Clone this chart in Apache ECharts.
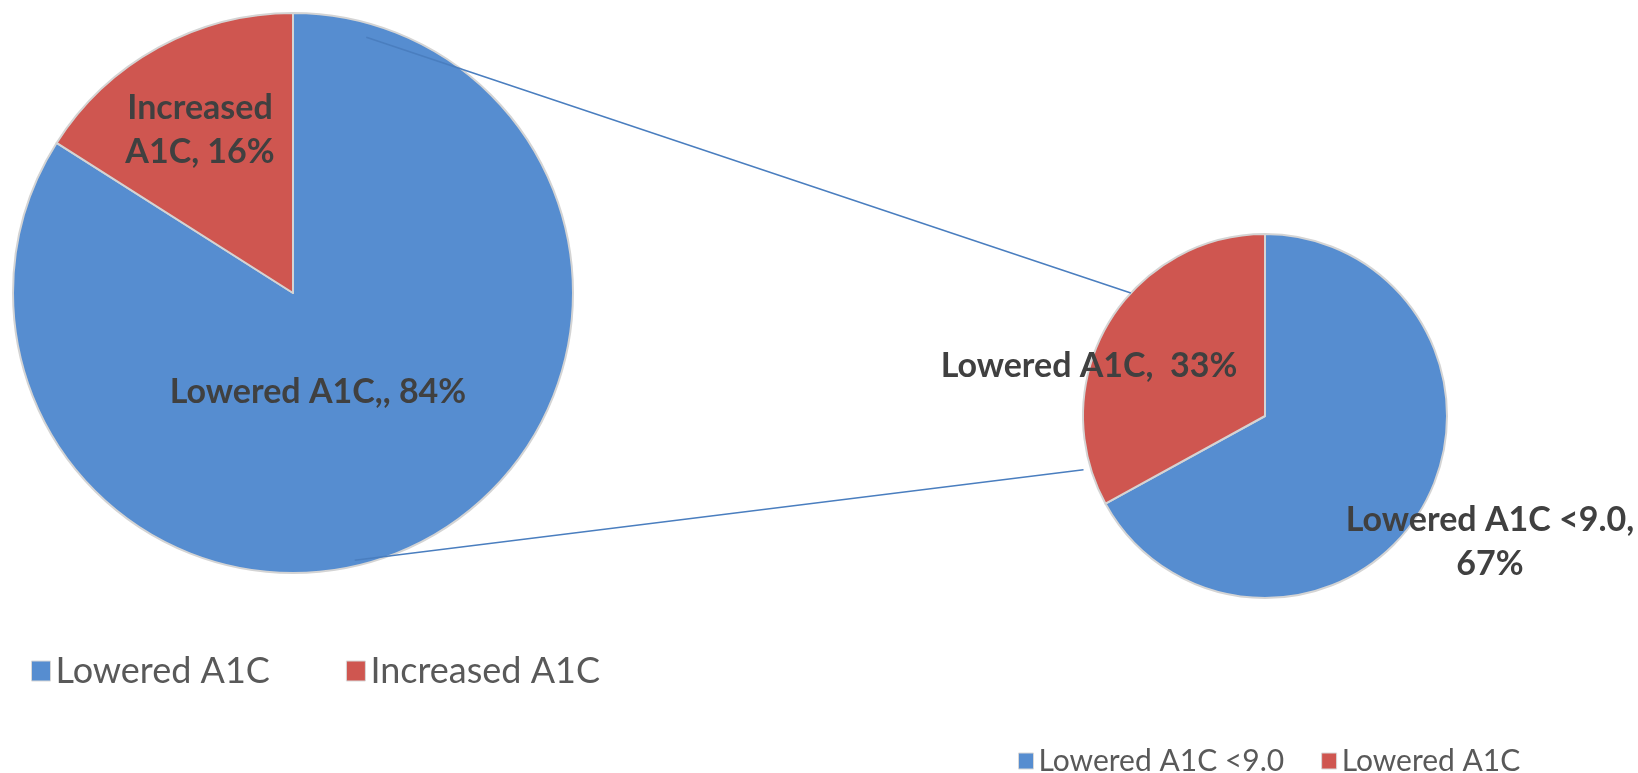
<!DOCTYPE html>
<html>
<head>
<meta charset="utf-8">
<script src="https://cdn.jsdelivr.net/npm/echarts@6/dist/echarts.min.js"></script>
<style>
  html, body { margin: 0; padding: 0; background: #fff; }
  #chart { width: 1638px; height: 773px; }
</style>
</head>
<body>
<div id="chart"></div>
<script>
// --- data ---
const leftNames = ['Lowered A1C', 'Increased A1C'];
const leftValues = [84, 16];
const leftLabelPrefix = ['Lowered A1C,, ', 'Increased\nA1C, '];

const rightNames = ['Lowered A1C <9.0', 'Lowered A1C '];
const rightValues = [67, 33];
const rightLabelPrefix = ['Lowered A1C <9.0,\n', 'Lowered A1C,  '];

const BLUE = '#568dd0';
const RED = '#cf5650';
const TEXT = '#404040';
const FONT = 'Lato, "Open Sans", sans-serif';

// pie geometry (px)
const leftPie = { cx: 293, cy: 293, r: 280 };
const rightPie = { cx: 1265, cy: 416, r: 182 };

// label anchor points (px)
const leftLabelPos = [[318, 392], [200, 130]];
const rightLabelPos = [[1490, 542], [1089, 366]];

// point on a pie at angle (deg, counter-clockwise from 3 o'clock) and radius fraction
function piePoint(pie, angle, f) {
  const a = angle * Math.PI / 180;
  return [pie.cx + pie.r * f * Math.cos(a), pie.cy - pie.r * f * Math.sin(a)];
}

const topStart = piePoint(leftPie, 74, 0.95);
const topEnd = piePoint(rightPie, 137.5, 1.0);
const botStart = piePoint(leftPie, -77, 0.98);
const botEnd = piePoint(rightPie, -163.5, 1.04);

function buildData(names, values) {
  return names.map((name, i) => ({
    name,
    value: values[i],
    itemStyle: { color: i === 0 ? BLUE : RED },
  }));
}

function pieLabel(prefix) {
  return {
    position: 'inside',
    formatter: (p) => prefix[p.dataIndex] + p.value + '%',
    fontFamily: FONT,
    fontWeight: 'bold',
    fontSize: 34,
    lineHeight: 44,
    color: TEXT,
  };
}

function placeLabels(pos) {
  return (p) => ({
    x: pos[p.dataIndex][0],
    y: pos[p.dataIndex][1],
    align: 'center',
    verticalAlign: 'middle',
  });
}

const chart = echarts.init(document.getElementById('chart'));

chart.setOption({
  animation: false,
  backgroundColor: '#fff',
  legend: [
    {
      data: leftNames,
      left: 31,
      top: 653,
      padding: 0,
      icon: 'rect',
      itemWidth: 19,
      itemHeight: 20,
      itemGap: 76,
      itemStyle: { borderColor: '#d8d8d8', borderWidth: 1 },
      textStyle: { fontFamily: FONT, fontSize: 36, color: '#595959' },
    },
    {
      data: rightNames,
      left: 1018,
      top: 746,
      padding: 0,
      icon: 'rect',
      itemWidth: 15,
      itemHeight: 16,
      itemGap: 37,
      itemStyle: { borderColor: '#d8d8d8', borderWidth: 1 },
      textStyle: { fontFamily: FONT, fontSize: 30, color: '#595959' },
    },
  ],
  graphic: [
    {
      type: 'line',
      z: 100,
      shape: { x1: topStart[0], y1: topStart[1], x2: topEnd[0], y2: topEnd[1] },
      style: { stroke: '#4a7ebf', lineWidth: 1.5 },
    },
    {
      type: 'line',
      z: 100,
      shape: { x1: botStart[0], y1: botStart[1], x2: botEnd[0], y2: botEnd[1] },
      style: { stroke: '#4a7ebf', lineWidth: 1.5 },
    },
  ],
  series: [
    {
      type: 'pie',
      center: [leftPie.cx, leftPie.cy],
      radius: leftPie.r,
      startAngle: 90,
      clockwise: true,
      data: buildData(leftNames, leftValues),
      itemStyle: { borderColor: '#d4d4d4', borderWidth: 2 },
      label: pieLabel(leftLabelPrefix),
      labelLayout: placeLabels(leftLabelPos),
      emphasis: { disabled: true },
    },
    {
      type: 'pie',
      center: [rightPie.cx, rightPie.cy],
      radius: rightPie.r,
      startAngle: 90,
      clockwise: true,
      data: buildData(rightNames, rightValues),
      itemStyle: { borderColor: '#d4d4d4', borderWidth: 2 },
      label: pieLabel(rightLabelPrefix),
      labelLayout: placeLabels(rightLabelPos),
      emphasis: { disabled: true },
    },
  ],
});
</script>
</body>
</html>
